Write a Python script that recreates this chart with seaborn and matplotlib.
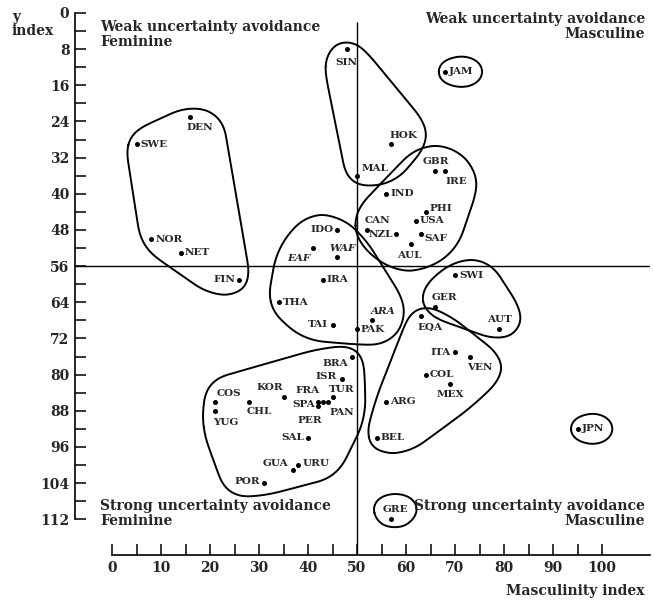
import numpy as np
import pandas as pd
import matplotlib
matplotlib.use("Agg")
import matplotlib.pyplot as plt
import seaborn as sns

# =========================
# data (Hofstede: masculinity vs uncertainty avoidance)
# =========================
codes = ["SIN", "JAM", "DEN", "SWE", "NOR", "NET", "FIN", "HOK", "MAL", "GBR",
         "IRE", "IND", "PHI", "USA", "CAN", "NZL", "SAF", "AUL", "IDO", "WAF",
         "EAF", "IRA", "THA", "TAI", "ARA", "PAK", "SWI", "GER", "AUT", "EQA",
         "ITA", "VEN", "COL", "MEX", "ARG", "BEL", "JPN", "GRE", "BRA", "ISR",
         "TUR", "FRA", "KOR", "SPA", "PAN", "PER", "COS", "CHL", "YUG", "SAL",
         "GUA", "URU", "POR"]
masculinity = [48, 68, 16, 5, 8, 14, 26, 57, 50, 66,
               68, 56, 64, 62, 52, 58, 63, 61, 46, 46,
               41, 43, 34, 45, 53, 50, 70, 66, 79, 63,
               70, 73, 64, 69, 56, 54, 95, 57, 49, 47,
               45, 43, 35, 42, 44, 42, 21, 28, 21, 40,
               37, 38, 31]
uncertainty = [8, 13, 23, 29, 50, 53, 59, 29, 36, 35,
               35, 40, 44, 46, 48, 49, 49, 51, 48, 54,
               52, 59, 64, 69, 68, 70, 58, 65, 70, 67,
               75, 76, 80, 82, 86, 94, 92, 112, 76, 81,
               85, 86, 85, 86, 86, 87, 86, 86, 88, 94,
               101, 100, 104]

groups = [
    ["DEN", "SWE", "NOR", "NET", "FIN"],
    ["SIN", "HOK", "MAL"],
    ["GBR", "IRE", "IND", "PHI", "USA", "CAN", "NZL", "SAF", "AUL"],
    ["JAM"],
    ["IDO", "WAF", "EAF", "IRA", "THA", "TAI", "ARA", "PAK"],
    ["SWI", "GER", "AUT"],
    ["EQA", "ITA", "VEN", "COL", "MEX", "ARG", "BEL"],
    ["BRA", "ISR", "TUR", "FRA", "KOR", "SPA", "PAN", "PER", "COS", "CHL",
     "YUG", "SAL", "GUA", "URU", "POR"],
    ["JPN"],
    ["GRE"],
]
italic_codes = ["EAF", "WAF", "ARA"]

# label placement: (dx px, dy px downwards, ha)
label_pos = {
    "SIN": (-1, 13, "center"), "JAM": (4, 0, "left"), "DEN": (9, 11, "center"),
    "SWE": (4, 0, "left"), "NOR": (4, 0, "left"), "NET": (4, 0, "left"),
    "FIN": (-4, 0, "right"), "HOK": (12, -9, "center"), "MAL": (5, -7, "left"),
    "GBR": (0, -10, "center"), "IRE": (11, 10, "center"), "IND": (4, 0, "left"),
    "PHI": (4, -3, "left"), "USA": (4, 0, "left"), "CAN": (-2, -9, "left"),
    "NZL": (-3, 0, "right"), "SAF": (4, 4, "left"), "AUL": (-2, 12, "center"),
    "IDO": (-4, 0, "right"), "WAF": (5, -9, "center"), "EAF": (-14, 10, "center"),
    "IRA": (4, 0, "left"), "THA": (4, 0, "left"), "TAI": (-4, 0, "right"),
    "ARA": (11, -9, "center"), "PAK": (3, 0, "left"), "SWI": (4, 0, "left"),
    "GER": (9, -9, "center"), "AUT": (0, -10, "center"), "EQA": (9, 12, "center"),
    "ITA": (-4, 0, "right"), "VEN": (10, 11, "center"), "COL": (4, 0, "left"),
    "MEX": (0, 11, "center"), "ARG": (4, 0, "left"), "BEL": (4, 0, "left"),
    "JPN": (4, 0, "left"), "GRE": (4, -10, "center"), "BRA": (-4, 7, "right"),
    "ISR": (-6, -3, "right"), "TUR": (9, -8, "center"), "FRA": (-15, -11, "center"),
    "KOR": (-14, -10, "center"), "SPA": (-3, 3, "right"), "PAN": (2, 11, "left"),
    "PER": (-8, 14, "center"), "COS": (14, -8, "center"), "YUG": (11, 12, "center"),
    "CHL": (10, 10, "center"), "SAL": (-4, 0, "right"), "GUA": (-5, -6, "right"),
    "URU": (4, -2, "left"), "POR": (-4, -2, "right"),
}


def convex_hull(points):
    pts = sorted(set(points))
    if len(pts) < 3:
        return pts

    def cross(o, a, b):
        return (a[0] - o[0]) * (b[1] - o[1]) - (a[1] - o[1]) * (b[0] - o[0])

    lower, upper = [], []
    for p in pts:
        while len(lower) >= 2 and cross(lower[-2], lower[-1], p) <= 0:
            lower.pop()
        lower.append(p)
    for p in reversed(pts):
        while len(upper) >= 2 and cross(upper[-2], upper[-1], p) <= 0:
            upper.pop()
        upper.append(p)
    return lower[:-1] + upper[:-1]


def smooth_closed(poly, n=300, win_px=40):
    # resample by arc length, then circular moving average -> soft hand-drawn loop
    p = np.asarray(poly, dtype=float)
    p = np.vstack([p, p[:1]])
    seg = np.hypot(*np.diff(p, axis=0).T)
    s = np.concatenate([[0], np.cumsum(seg)])
    t = np.linspace(0, s[-1], n, endpoint=False)
    x = np.interp(t, s, p[:, 0])
    y = np.interp(t, s, p[:, 1])
    half = max(1, int(n * win_px / s[-1]) // 2)
    shifts = range(-half, half + 1)
    xs = np.mean([np.roll(x, k) for k in shifts], axis=0)
    ys = np.mean([np.roll(y, k) for k in shifts], axis=0)
    return np.column_stack([xs, ys])


def padded_loop(points, pad):
    ang = np.linspace(0, 2 * np.pi, 36, endpoint=False)
    ring = []
    for x, y in points:
        for a in ang:
            ring.append((round(x + pad * np.cos(a), 2), round(y + pad * np.sin(a), 2)))
    h = smooth_closed(convex_hull(ring))
    return np.vstack([h, h[:1]])


# =========================
# plot
# =========================
df = pd.DataFrame({"code": codes, "mas": masculinity, "uai": uncertainty})

sns.set_style("ticks")
plt.rcParams["font.family"] = ["DejaVu Serif"]
plt.rcParams["font.weight"] = "bold"

W, H = 654, 603
fig = plt.figure(figsize=(W / 100, H / 100), dpi=100)
ax = fig.add_axes([75 / W, 48 / H, (650 - 75) / W, (555 - 10) / H])

sns.scatterplot(data=df, x="mas", y="uai", color="black", s=13,
                linewidth=0, ax=ax, zorder=3)

ax.set_xlim((75 - 112) / 4.9, (650 - 112) / 4.9)
ax.set_ylim((555 - 13) / 4.52, (10 - 13) / 4.52)

ax.axhline(56, color="black", lw=1.0, zorder=1)
ax.vlines(50, 2, (555 - 13) / 4.52, color="black", lw=1.0, zorder=1)

sns.despine(ax=ax)
ax.spines["left"].set_bounds(0, 112)
ax.spines["bottom"].set_bounds(0, (650 - 112) / 4.9)
for s in ["left", "bottom"]:
    ax.spines[s].set_linewidth(1.2)
    ax.spines[s].set_color("black")

ax.set_xticks(range(0, 101, 10))
ax.set_xticks(range(5, 100, 10), minor=True)
ax.set_yticks(range(0, 113, 8))
ax.set_yticks(range(4, 112, 8), minor=True)
ax.tick_params(which="both", direction="in", length=8, width=1.1,
               color="black", labelsize=10, pad=4)
ax.set_xlabel("")
ax.set_ylabel("")

texts = {}
for c, x, y in zip(codes, masculinity, uncertainty):
    dx, dy, ha = label_pos[c]
    t = ax.annotate(c, (x, y), xytext=(dx, -dy), textcoords="offset pixels",
                    ha=ha, va="center", fontsize=7.5, fontweight="bold",
                    fontstyle="italic" if c in italic_codes else "normal")
    texts[c] = t

fig.text(100 / W, 1 - 20 / H, "Weak uncertainty avoidance\nFeminine",
         ha="left", va="top", fontsize=10, linespacing=1.1)
fig.text(645 / W, 1 - 12 / H, "Weak uncertainty avoidance\nMasculine",
         ha="right", va="top", fontsize=10, linespacing=1.1, multialignment="right")
fig.text(100 / W, 1 - 499 / H, "Strong uncertainty avoidance\nFeminine",
         ha="left", va="top", fontsize=10, linespacing=1.1)
fig.text(645 / W, 1 - 499 / H, "Strong uncertainty avoidance\nMasculine",
         ha="right", va="top", fontsize=10, linespacing=1.1, multialignment="right")
fig.text(645 / W, 1 - 598 / H, "Masculinity index", ha="right", va="bottom", fontsize=10)
fig.text(12 / W, 1 - 10 / H, "y\nindex", ha="left", va="top", fontsize=10, linespacing=1.0)

# loops around the clusters, built from dots and label boxes
fig.canvas.draw()
renderer = fig.canvas.get_renderer()
lookup = dict(zip(codes, zip(masculinity, uncertainty)))
inv = ax.transData.inverted()
for grp in groups:
    pts = []
    for c in grp:
        px, py = ax.transData.transform(lookup[c])
        pts.append((px, py))
        bb = texts[c].get_window_extent(renderer)
        pts += [(bb.x0, bb.y0), (bb.x1, bb.y0), (bb.x0, bb.y1), (bb.x1, bb.y1)]
    loop = inv.transform(padded_loop(pts, 11))
    ax.plot(loop[:, 0], loop[:, 1], color="black", lw=1.4, zorder=2)

fig.savefig("out.png", dpi=100)
